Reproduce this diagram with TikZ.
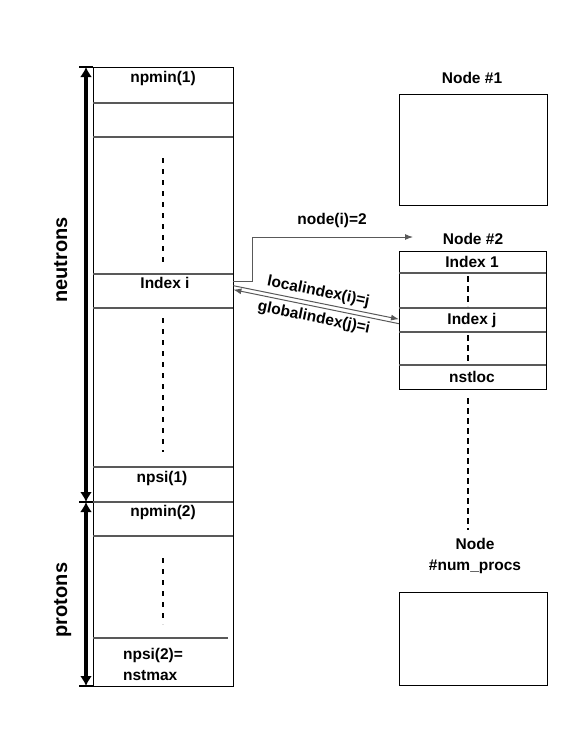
\documentclass[tikz,border=0pt]{standalone}
\usepackage{fontspec}
\setmainfont{Liberation Sans}
\usetikzlibrary{arrows.meta}
\begin{document}
\begin{tikzpicture}[x=1pt,y=-1pt,
  txt/.style={font=\fontsize{15.5}{21}\selectfont\bfseries, inner sep=0pt, align=center},
  bigtxt/.style={font=\fontsize{20}{22}\selectfont\bfseries, inner sep=0pt},
  frame/.style={draw=black, line width=1.3pt},
  sepline/.style={draw=black!65, line width=1.2pt},
  cell/.style={draw=none, inner sep=0pt, anchor=north west},
  dotsl/.style={draw=black, line width=2.6pt, dash pattern=on 5pt off 6pt},
  dashl/.style={draw=black, line width=2pt, dash pattern=on 6pt off 4pt},
  conn/.style={draw=black!65, line width=1pt, -{Latex[length=8pt,width=6pt]}},
  dimarrow/.style={draw=black, line width=3.5pt, {Latex[length=10pt,width=12pt]}-{Latex[length=10pt,width=12pt]}},
  tick/.style={draw=black, line width=1.3pt}
]
\useasboundingbox (0,0) rectangle (581,752);

% ---------------- left column ----------------
\node[cell, frame, minimum width=140pt, minimum height=619pt] (col) at (93,67) {};
\node[cell, minimum width=140pt, minimum height=34pt] (idxi) at (93,274) {};
\draw[sepline] (93,103) -- (233,103);
\draw[sepline] (93,137) -- (233,137);
\draw[sepline] (93,274) -- (233,274);
\draw[sepline] (93,308) -- (233,308);
\draw[sepline] (93,467) -- (233,467);
\draw[sepline] (93,502) -- (233,502);
\draw[sepline] (93,536) -- (233,536);
\draw[sepline] (93,638) -- (228,638);

\draw[dotsl] (163,158) -- (163,264);
\draw[dotsl] (163,318) -- (163,452);
\draw[dotsl] (163,558) -- (163,624);

\node[txt] (t1) at (163,78) {npmin(1)};
\node[txt] (t2) at (165,283) {Index i};
\node[txt] (t3) at (162,478) {npsi(1)};
\node[txt] (t4) at (163,512) {npmin(2)};
\node[txt, align=left] (t5) at (153,664) {npsi(2)=\\nstmax};

% dimension arrows
\coordinate (dtop) at (86,67);
\coordinate (dmid) at (86,502);
\coordinate (dbot) at (86,686);
\draw[tick] (79,67) -- (93,67);
\draw[tick] (79,502) -- (93,502);
\draw[tick] (79,686) -- (93,686);
\draw[dimarrow] (dtop) -- (dmid);
\draw[dimarrow] (dmid) -- (dbot);
\node[bigtxt, rotate=90, anchor=base] (neut) at (67,260) {neutrons};
\node[bigtxt, rotate=90, anchor=base] (prot) at (67,600) {protons};

% ---------------- right side ----------------
\node[txt] (n1lbl) at (472,78) {Node \#1};
\node[cell, frame, minimum width=148pt, minimum height=111pt] (n1) at (399,94) {};

\node[txt] (n2lbl) at (473,239) {Node \#2};
\node[cell, frame, minimum width=147pt, minimum height=138pt] (n2) at (399,251) {};
\draw[sepline] (399,273) -- (546,273);
\draw[sepline] (399,308) -- (546,308);
\draw[sepline] (399,332) -- (546,332);
\draw[sepline] (399,365) -- (546,365);
\node[cell, minimum width=147pt, minimum height=24pt] (idxj) at (399,308) {};
\node[txt] (r1) at (472,262) {Index 1};
\node[txt] (r2) at (472,320) {Index j};
\node[txt] (r3) at (472,377) {nstloc};
\draw[dashl] (468,276) -- (468,306);
\draw[dashl] (468,335) -- (468,363);

\draw[dashl] (468,398) -- (468,530);
\node[txt] (nplbl) at (475,556) {Node\\\#num\_procs};
\node[cell, frame, minimum width=148pt, minimum height=93pt] (np) at (399,592) {};

% ---------------- connectors ----------------
\coordinate (tip2) at (413,237);
\draw[conn] ([yshift=10pt]idxi.east) -| (252,237) -- (tip2);
\node[txt] (nodei) at (332,220) {node(i)=2};

\draw[conn] ([yshift=5.5pt]idxi.east) -- node[txt, sloped, above=3pt] (li) {localindex(i)=j} ([yshift=1pt]idxj.west);
\draw[conn] ([yshift=-3.5pt]idxj.west) -- node[txt, sloped, below=4pt] (gi) {globalindex(j)=i} ([yshift=1.5pt]idxi.east);
\end{tikzpicture}
\end{document}
